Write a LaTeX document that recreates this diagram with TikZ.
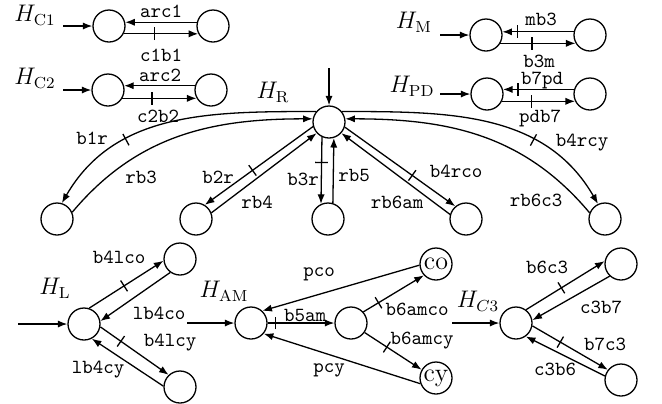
\documentclass[tikz,border=0pt]{standalone}
\usetikzlibrary{arrows.meta,decorations.markings}
\tikzset{
  st/.style={circle,draw,line width=0.65pt,minimum size=16pt,inner sep=0pt},
  lab/.style={font=\ttfamily\fontsize{10}{12}\selectfont,inner sep=0pt},
  hlab/.style={font=\fontsize{12}{14}\selectfont,inner sep=0pt},
  ar/.style={line width=0.65pt,-{Latex[length=4.8pt,width=3.6pt]}},
  cut/.style={postaction={decorate,decoration={markings,
      mark=at position #1 with {\draw[-,line width=0.65pt] (0,-3.2pt) -- (0,3.2pt);}}}},
}
\begin{document}
\begin{tikzpicture}[x=0.5pt,y=0.5pt]
\useasboundingbox (0,0) rectangle (662,-403);

% ---------- C1 / C2 pairs
\node[st] (c1a) at (109,-26) {};
\node[st] (c1b) at (213,-26) {};
\node[st] (c2a) at (108,-90) {};
\node[st] (c2b) at (211,-90) {};
\node[hlab] (hc1) at (35,-15) {$H_{\mathrm{C1}}$};
\node[hlab] (hc2) at (35,-78) {$H_{\mathrm{C2}}$};
\coordinate (c1in) at (63,-26);
\coordinate (c2in) at (63,-90);
\draw[ar] (c1in) -- (c1a);
\draw[ar] (c2in) -- (c2a);
\draw[ar] (c1b.167) -- (c1a.13);
\draw[ar,cut=0.41] (c1a.-28) -- (c1b.208);
\draw[ar] (c2b.165) -- (c2a.15);
\draw[ar,cut=0.4] (c2a.-30) -- (c2b.210);
\node[lab] (tarc1) at (161,-11) {arc1};
\node[lab] (tc1b1) at (161,-55) {c1b1};
\node[lab] (tarc2) at (160,-75) {arc2};
\node[lab] (tc2b2) at (158,-116) {c2b2};

% ---------- M / PD pairs
\node[st] (ma) at (486,-35) {};
\node[st] (mb) at (590,-35) {};
\node[st] (pa) at (487,-94) {};
\node[st] (pb) at (590,-94) {};
\node[hlab] (hm) at (414,-22) {$H_{\mathrm{M}}$};
\node[hlab] (hpd) at (412,-86) {$H_{\mathrm{PD}}$};
\coordinate (min) at (440,-35);
\coordinate (pin) at (440,-94);
\draw[ar] (min) -- (ma);
\draw[ar] (pin) -- (pa);
\draw[ar,cut=0.79] (mb.169) -- (ma.11);
\draw[ar,cut=0.42] (ma.-30) -- (mb.210);
\draw[ar,cut=0.79] (pb.164) -- (pa.16);
\draw[ar,cut=0.4] (pa.-26) -- (pb.206);
\node[lab] (tmb3) at (541,-19) {mb3};
\node[lab] (tb3m) at (539,-61) {b3m};
\node[lab] (tb7pd) at (542,-80) {b7pd};
\node[lab] (tpdb7) at (540,-118) {pdb7};

% ---------- R hub
\node[st] (hr) at (329,-122) {};
\node[hlab] (hrl) at (273,-92) {$H_{\mathrm{R}}$};
\coordinate (hrin) at (329,-68);
\draw[ar] (hrin) -- (hr);
\node[st] (ra) at (57,-219) {};
\node[st] (rb) at (196,-219) {};
\node[st] (rc) at (328,-219) {};
\node[st] (rd) at (466,-219) {};
\node[st] (re) at (605,-219) {};
\draw[ar,cut=0.68] (hr.141) to[out=180,in=60] (ra.73);
\draw[ar] (ra.24) to[out=50,in=180] (hr.169);
\draw[ar,cut=0.56] (hr.196) -- (rb.58);
\draw[ar] (rb.22) -- (hr.222);
\draw[ar,cut=0.38] (hr.245) -- (rc.115);
\draw[ar] (rc.73) -- (hr.287);
\draw[ar,cut=0.61] (hr.342) -- (rd.130);
\draw[ar] (rd.164) -- (hr.318);
\draw[ar,cut=0.68] (hr.39) to[out=0,in=120] (re.115);
\draw[ar] (re.158) to[out=130,in=0] (hr.11);
\node[lab] (tb1r) at (92,-138) {b1r};
\node[lab] (trb3) at (141,-177) {rb3};
\node[lab] (tb2r) at (218,-177) {b2r};
\node[lab] (trb4) at (257,-202) {rb4};
\node[lab] (tb3r) at (303,-179) {b3r};
\node[lab] (trb5) at (354,-175) {rb5};
\node[lab] (tb4rco) at (456,-171) {b4rco};
\node[lab] (trb6am) at (397,-202) {rb6am};
\node[lab] (tb4rcy) at (582,-143) {b4rcy};
\node[lab] (trb6c3) at (536,-200) {rb6c3};

% ---------- L hub
\node[st] (l) at (84,-324) {};
\node[st] (lco) at (180,-259) {};
\node[st] (lcy) at (180,-387) {};
\node[hlab] (hl) at (55,-288) {$H_{\mathrm{L}}$};
\coordinate (lin) at (18,-324);
\draw[ar] (lin) -- (l);
\draw[ar,cut=0.47] (l.72) -- (lco.186);
\draw[ar] (lco.234) -- (l.10);
\draw[ar,cut=0.3] (l.-10) -- (lcy.133);
\draw[ar] (lcy.177) -- (l.298);
\node[lab] (tb4lco) at (119,-257) {b4lco};
\node[lab] (tlb4co) at (159,-313) {lb4co};
\node[lab] (tb4lcy) at (170,-343) {b4lcy};
\node[lab] (tlb4cy) at (98,-370) {lb4cy};

% ---------- AM hub
\node[st] (am) at (251,-323) {};
\node[st] (m2) at (351,-323) {};
\node[st,font=\fontsize{13}{13}\selectfont] (co) at (436,-264) {co};
\node[st,font=\fontsize{13}{13}\selectfont] (cy) at (436,-378) {cy};
\node[hlab] (ham) at (224,-291) {$H_{\mathrm{AM}}$};
\coordinate (amin) at (187,-323);
\draw[ar] (amin) -- (am);
\draw[ar,cut=0.12] (am) -- (m2);
\draw[ar,cut=0.25] (m2.42) -- (co.223);
\draw[ar,cut=0.39] (m2.325) -- (cy.150);
\draw[ar] (co.184) -- (am.47);
\draw[ar] (cy.200) -- (am.320);
\node[lab] (tpco) at (319,-274) {pco};
\node[lab] (tb5am) at (305,-315) {b5am};
\node[lab] (tb6amco) at (417,-309) {b6amco};
\node[lab] (tb6amcy) at (422,-341) {b6amcy};
\node[lab] (tpcy) at (329,-370) {pcy};

% ---------- C3 hub
\node[st] (c3) at (516,-323) {};
\node[st] (c7) at (621,-264) {};
\node[st] (c6) at (621,-380) {};
\node[hlab] (hc3) at (478,-301) {$H_{C3}$};
\coordinate (c3in) at (452,-323);
\draw[ar] (c3in) -- (c3);
\draw[ar,cut=0.45] (c3.53) -- (c7.170);
\draw[ar] (c7.227) -- (c3.10);
\draw[ar,cut=0.37] (c3.350) -- (c6.142);
\draw[ar] (c6.166) -- (c3.306);
\node[lab] (tb6c3) at (547,-267) {b6c3};
\node[lab] (tc3b7) at (601,-307) {c3b7};
\node[lab] (tb7c3) at (605,-344) {b7c3};
\node[lab] (tc3b6) at (555,-369) {c3b6};
\end{tikzpicture}
\end{document}
